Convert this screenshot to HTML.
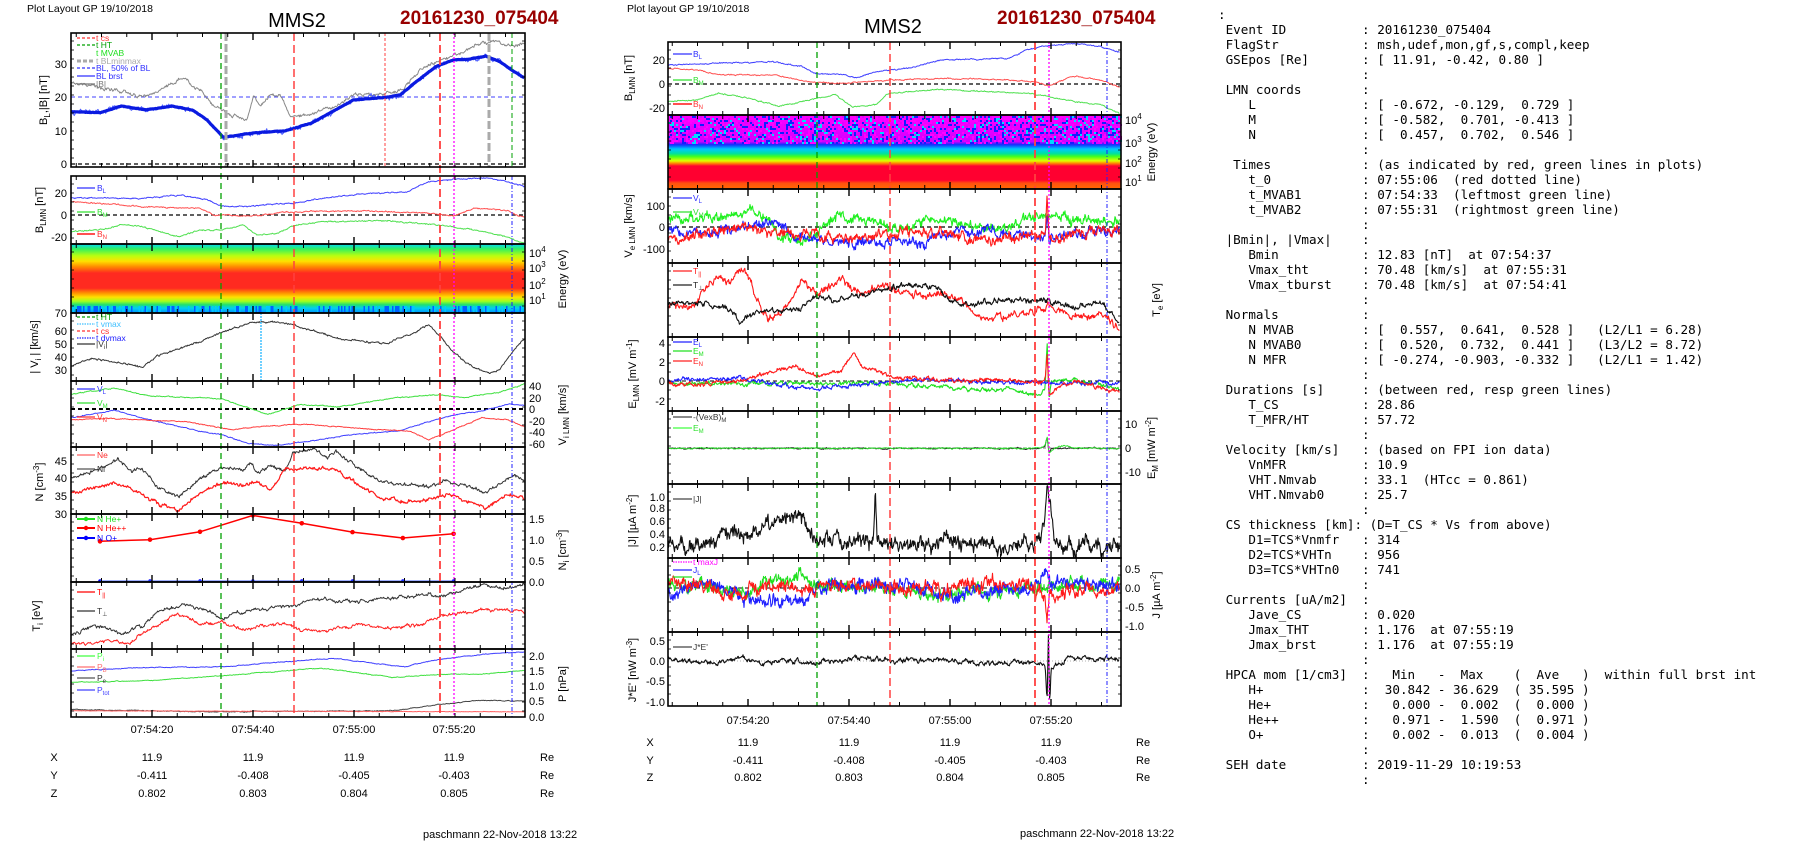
<!DOCTYPE html>
<html><head><meta charset="utf-8">
<style>
html,body{margin:0;padding:0;background:#fff;}
#wrap{position:relative;width:1804px;height:841px;overflow:hidden;background:#fff;}
svg{position:absolute;left:0;top:0;font-family:"Liberation Sans",sans-serif;}
pre{position:absolute;left:1218px;top:7px;margin:0;font-family:"DejaVu Sans Mono","Liberation Mono",monospace;font-size:12.6px;line-height:15px;color:#000;}
</style></head><body><div id="wrap">
<svg id="s" width="1804" height="841" viewBox="0 0 1804 841">
<defs>
<linearGradient id="specL" x1="0" y1="0" x2="0" y2="1">
<stop offset="0" stop-color="#00d8ff"/><stop offset="0.07" stop-color="#30f060"/><stop offset="0.17" stop-color="#b8ff10"/><stop offset="0.25" stop-color="#ffe000"/><stop offset="0.33" stop-color="#ff8a00"/><stop offset="0.42" stop-color="#ff2a20"/><stop offset="0.64" stop-color="#ff2a20"/><stop offset="0.71" stop-color="#ff9000"/><stop offset="0.77" stop-color="#ffe000"/><stop offset="0.83" stop-color="#a0ff20"/><stop offset="0.88" stop-color="#20e070"/><stop offset="0.93" stop-color="#00d0f0"/><stop offset="1" stop-color="#0090ff"/>
</linearGradient>
<linearGradient id="specM" x1="0" y1="0" x2="0" y2="1">
<stop offset="0" stop-color="#ff00ff"/><stop offset="0.36" stop-color="#d000ff"/><stop offset="0.40" stop-color="#1030ff"/><stop offset="0.46" stop-color="#00c8ff"/><stop offset="0.52" stop-color="#00e0a0"/><stop offset="0.56" stop-color="#40ff20"/><stop offset="0.62" stop-color="#e0ff00"/><stop offset="0.65" stop-color="#ff9000"/><stop offset="0.69" stop-color="#ff0030"/><stop offset="0.88" stop-color="#ff0030"/><stop offset="0.92" stop-color="#ff5010"/><stop offset="1" stop-color="#ff6a00"/>
</linearGradient>
</defs>
<rect x="71" y="244" width="454" height="69" fill="url(#specL)"/>
<rect x="668" y="115" width="453" height="74" fill="url(#specM)"/>
<g id="data"></g>
<g id="frames"></g>

<!-- headers -->
<text x="27" y="12" font-size="10.5">Plot Layout GP 19/10/2018</text>
<text x="297" y="27" font-size="20" text-anchor="middle">MMS2</text>
<text x="400" y="24" font-size="19" font-weight="bold" fill="#990000">20161230_075404</text>
<text x="627" y="12" font-size="10.5">Plot layout GP 19/10/2018</text>
<text x="893" y="33" font-size="20" text-anchor="middle">MMS2</text>
<text x="997" y="24" font-size="19" font-weight="bold" fill="#990000">20161230_075404</text>

<g font-size="11">
<!-- left tick labels -->
<g text-anchor="end">
<text x="67" y="68">30</text><text x="67" y="101">20</text><text x="67" y="135">10</text><text x="67" y="168">0</text>
<text x="67" y="197">20</text><text x="67" y="219">0</text><text x="67" y="241">-20</text>
<text x="67" y="317">70</text><text x="67" y="335">60</text><text x="67" y="348">50</text><text x="67" y="361">40</text><text x="67" y="374">30</text>
<text x="67" y="465">45</text><text x="67" y="482">40</text><text x="67" y="500">35</text><text x="67" y="518">30</text>
</g>
<text x="529" y="390">40</text><text x="529" y="402">20</text><text x="529" y="413">0</text><text x="529" y="425">-20</text><text x="529" y="436">-40</text><text x="529" y="448">-60</text>
<text x="529" y="523">1.5</text><text x="529" y="544">1.0</text><text x="529" y="565">0.5</text><text x="529" y="586">0.0</text>
<text x="529" y="660">2.0</text><text x="529" y="675">1.5</text><text x="529" y="690">1.0</text><text x="529" y="705">0.5</text><text x="529" y="721">0.0</text>
<text x="529" y="257">10<tspan font-size="8" dy="-5">4</tspan></text>
<text x="529" y="272">10<tspan font-size="8" dy="-5">3</tspan></text>
<text x="529" y="289">10<tspan font-size="8" dy="-5">2</tspan></text>
<text x="529" y="304">10<tspan font-size="8" dy="-5">1</tspan></text>
<!-- left axis titles -->
<text transform="translate(47,100) rotate(-90)" text-anchor="middle">B<tspan font-size="8" dy="3">L</tspan><tspan dy="-3">,|B| [nT]</tspan></text>
<text transform="translate(43,210) rotate(-90)" text-anchor="middle">B<tspan font-size="8" dy="3">LMN</tspan><tspan dy="-3"> [nT]</tspan></text>
<text transform="translate(38,347) rotate(-90)" text-anchor="middle">| V<tspan font-size="8" dy="3">i</tspan><tspan dy="-3"> | [km/s]</tspan></text>
<text transform="translate(43,482) rotate(-90)" text-anchor="middle">N [cm<tspan font-size="8" dy="-4">-3</tspan><tspan dy="4">]</tspan></text>
<text transform="translate(40,616) rotate(-90)" text-anchor="middle">T<tspan font-size="8" dy="3">i</tspan><tspan dy="-3"> [eV]</tspan></text>
<text transform="translate(566,279) rotate(-90)" text-anchor="middle">Energy (eV)</text>
<text transform="translate(566,415) rotate(-90)" text-anchor="middle">V<tspan font-size="8" dy="3">i LMN</tspan><tspan dy="-3"> [km/s]</tspan></text>
<text transform="translate(566,550) rotate(-90)" text-anchor="middle">N<tspan font-size="8" dy="3">i</tspan><tspan dy="-3"> [cm</tspan><tspan font-size="8" dy="-4">-3</tspan><tspan dy="4">]</tspan></text>
<text transform="translate(566,684) rotate(-90)" text-anchor="middle">P [nPa]</text>
<!-- left time/pos -->
<g text-anchor="middle">
<text x="152" y="733">07:54:20</text><text x="253" y="733">07:54:40</text><text x="354" y="733">07:55:00</text><text x="454" y="733">07:55:20</text>
<text x="152" y="761">11.9</text><text x="253" y="761">11.9</text><text x="354" y="761">11.9</text><text x="454" y="761">11.9</text>
<text x="152" y="779">-0.411</text><text x="253" y="779">-0.408</text><text x="354" y="779">-0.405</text><text x="454" y="779">-0.403</text>
<text x="152" y="797">0.802</text><text x="253" y="797">0.803</text><text x="354" y="797">0.804</text><text x="454" y="797">0.805</text>
<text x="54" y="761">X</text><text x="54" y="779">Y</text><text x="54" y="797">Z</text>
</g>
<text x="540" y="761">Re</text><text x="540" y="779">Re</text><text x="540" y="797">Re</text>
<text x="423" y="838">paschmann 22-Nov-2018 13:22</text>

<!-- middle tick labels -->
<g text-anchor="end">
<text x="665" y="64">20</text><text x="665" y="88">0</text><text x="665" y="112">-20</text>
<text x="665" y="210">100</text><text x="665" y="231">0</text><text x="665" y="253">-100</text>
<text x="665" y="347">4</text><text x="665" y="366">2</text><text x="665" y="385">0</text><text x="665" y="405">-2</text>
<text x="665" y="501">1.0</text><text x="665" y="512">0.8</text><text x="665" y="525">0.6</text><text x="665" y="538">0.4</text><text x="665" y="551">0.2</text>
<text x="665" y="645">0.5</text><text x="665" y="665">0.0</text><text x="665" y="685">-0.5</text><text x="665" y="706">-1.0</text>
</g>
<text x="1125" y="124">10<tspan font-size="8" dy="-5">4</tspan></text>
<text x="1125" y="147">10<tspan font-size="8" dy="-5">3</tspan></text>
<text x="1125" y="167">10<tspan font-size="8" dy="-5">2</tspan></text>
<text x="1125" y="186">10<tspan font-size="8" dy="-5">1</tspan></text>
<text x="1125" y="428">10</text><text x="1125" y="452">0</text><text x="1125" y="476">-10</text>
<text x="1125" y="573">0.5</text><text x="1125" y="592">0.0</text><text x="1125" y="611">-0.5</text><text x="1125" y="630">-1.0</text>
<text transform="translate(632,78) rotate(-90)" text-anchor="middle">B<tspan font-size="8" dy="3">LMN</tspan><tspan dy="-3"> [nT]</tspan></text>
<text transform="translate(632,226) rotate(-90)" text-anchor="middle">V<tspan font-size="8" dy="3">e LMN</tspan><tspan dy="-3"> [km/s]</tspan></text>
<text transform="translate(636,374) rotate(-90)" text-anchor="middle">E<tspan font-size="8" dy="3">LMN</tspan><tspan dy="-3">  [mV m</tspan><tspan font-size="8" dy="-4">-1</tspan><tspan dy="4">]</tspan></text>
<text transform="translate(636,521) rotate(-90)" text-anchor="middle">|J| [µA m<tspan font-size="8" dy="-4">-2</tspan><tspan dy="4">]</tspan></text>
<text transform="translate(636,670) rotate(-90)" text-anchor="middle">J*E' [nW m<tspan font-size="8" dy="-4">-3</tspan><tspan dy="4">]</tspan></text>
<text transform="translate(1155,152) rotate(-90)" text-anchor="middle">Energy (eV)</text>
<text transform="translate(1160,300) rotate(-90)" text-anchor="middle">T<tspan font-size="8" dy="3">e</tspan><tspan dy="-3"> [eV]</tspan></text>
<text transform="translate(1155,448) rotate(-90)" text-anchor="middle">E<tspan font-size="8" dy="3">M</tspan><tspan dy="-3"> [mW m</tspan><tspan font-size="8" dy="-4">-2</tspan><tspan dy="4">]</tspan></text>
<text transform="translate(1160,595) rotate(-90)" text-anchor="middle">J [µA m<tspan font-size="8" dy="-4">-2</tspan><tspan dy="4">]</tspan></text>
<g text-anchor="middle">
<text x="748" y="724">07:54:20</text><text x="849" y="724">07:54:40</text><text x="950" y="724">07:55:00</text><text x="1051" y="724">07:55:20</text>
<text x="748" y="746">11.9</text><text x="849" y="746">11.9</text><text x="950" y="746">11.9</text><text x="1051" y="746">11.9</text>
<text x="748" y="764">-0.411</text><text x="849" y="764">-0.408</text><text x="950" y="764">-0.405</text><text x="1051" y="764">-0.403</text>
<text x="748" y="781">0.802</text><text x="849" y="781">0.803</text><text x="950" y="781">0.804</text><text x="1051" y="781">0.805</text>
<text x="650" y="746">X</text><text x="650" y="764">Y</text><text x="650" y="781">Z</text>
</g>
<text x="1136" y="746">Re</text><text x="1136" y="764">Re</text><text x="1136" y="781">Re</text>
<text x="1020" y="837">paschmann 22-Nov-2018 13:22</text>
</g>

<!-- legends -->
<g font-size="8.5">
<g stroke-width="1.2">
<line x1="77" y1="38" x2="95" y2="38" stroke="#ff3030" stroke-dasharray="3,2"/>
<line x1="77" y1="45" x2="95" y2="45" stroke="#00a000" stroke-dasharray="3,2"/>
<line x1="77" y1="61" x2="95" y2="61" stroke="#aaa" stroke-width="3" stroke-dasharray="4,2"/>
<line x1="77" y1="68" x2="95" y2="68" stroke="#3030ff" stroke-dasharray="3,2"/>
<line x1="77" y1="76" x2="95" y2="76" stroke="#3030ff"/>
<line x1="77" y1="84" x2="95" y2="84" stroke="#777"/>
<line x1="77" y1="188" x2="95" y2="188" stroke="#3030ff"/>
<line x1="77" y1="212" x2="95" y2="212" stroke="#30e030"/>
<line x1="77" y1="234" x2="95" y2="234" stroke="#ff5050" stroke-width="2"/>
<line x1="77" y1="317" x2="95" y2="317" stroke="#00a000" stroke-dasharray="3,2"/>
<line x1="77" y1="324" x2="95" y2="324" stroke="#40c0ff" stroke-dasharray="1.5,1"/>
<line x1="77" y1="331" x2="95" y2="331" stroke="#ff3030" stroke-dasharray="3,2"/>
<line x1="77" y1="338" x2="95" y2="338" stroke="#2020ff" stroke-dasharray="1.5,1"/>
<line x1="77" y1="344" x2="95" y2="344" stroke="#333"/>
<line x1="77" y1="389" x2="95" y2="389" stroke="#3030ff"/>
<line x1="77" y1="403" x2="95" y2="403" stroke="#30e030"/>
<line x1="77" y1="417" x2="95" y2="417" stroke="#ff3030"/>
<line x1="77" y1="455" x2="95" y2="455" stroke="#ff6060"/>
<line x1="77" y1="469" x2="95" y2="469" stroke="#555"/>
<line x1="77" y1="519" x2="95" y2="519" stroke="#20e020" stroke-width="2"/>
<line x1="77" y1="528" x2="95" y2="528" stroke="#ff0000" stroke-width="2"/>
<line x1="77" y1="538" x2="95" y2="538" stroke="#0000ff" stroke-width="2"/>
<line x1="77" y1="592" x2="95" y2="592" stroke="#ff0000"/>
<line x1="77" y1="611" x2="95" y2="611" stroke="#333"/>
<line x1="77" y1="656" x2="95" y2="656" stroke="#40ff40"/>
<line x1="77" y1="667" x2="95" y2="667" stroke="#ff7070"/>
<line x1="77" y1="678" x2="95" y2="678" stroke="#555"/>
<line x1="77" y1="690" x2="95" y2="690" stroke="#4040ff"/>
<line x1="673" y1="54" x2="692" y2="54" stroke="#3030ff"/>
<line x1="673" y1="80" x2="692" y2="80" stroke="#30e030"/>
<line x1="673" y1="104" x2="692" y2="104" stroke="#ff5050" stroke-width="2"/>
<line x1="673" y1="198" x2="692" y2="198" stroke="#3030ff"/>
<line x1="673" y1="212" x2="692" y2="212" stroke="#30e030"/>
<line x1="673" y1="271" x2="692" y2="271" stroke="#ff2020"/>
<line x1="673" y1="285" x2="692" y2="285" stroke="#222"/>
<line x1="673" y1="342" x2="692" y2="342" stroke="#2020ff"/>
<line x1="673" y1="351" x2="692" y2="351" stroke="#20e020"/>
<line x1="673" y1="361" x2="692" y2="361" stroke="#ff2020"/>
<line x1="673" y1="417" x2="692" y2="417" stroke="#444"/>
<line x1="673" y1="428" x2="692" y2="428" stroke="#40ff40"/>
<line x1="673" y1="499" x2="692" y2="499" stroke="#444"/>
<line x1="673" y1="562" x2="692" y2="562" stroke="#ff00ff" stroke-dasharray="1.5,1"/>
<line x1="673" y1="570" x2="692" y2="570" stroke="#2020ff"/>
<line x1="673" y1="577" x2="692" y2="577" stroke="#20e020"/>
<line x1="673" y1="647" x2="692" y2="647" stroke="#444"/>
</g>
<circle cx="86" cy="519" r="2.2" fill="#20e020"/><circle cx="86" cy="528" r="2.2" fill="#ff0000"/><circle cx="86" cy="538" r="2.2" fill="#0000ff"/>
<text x="96" y="41" fill="#ff3030">t  cs</text>
<text x="96" y="48" fill="#00a000">t  HT</text>
<text x="96" y="56" fill="#20e020">t  MVAB</text>
<text x="96" y="64" fill="#aaa">t  BLminmax</text>
<text x="96" y="71" fill="#3030ff">BL, 50% of BL</text>
<text x="96" y="79" fill="#3030ff">BL  brst</text>
<text x="96" y="87" fill="#777">|B|</text>
<text x="97" y="191" fill="#3030ff">B<tspan font-size="6" dy="2">L</tspan></text>
<text x="97" y="215" fill="#30e030">B<tspan font-size="6" dy="2">M</tspan></text>
<text x="97" y="237" fill="#ff3030">B<tspan font-size="6" dy="2">N</tspan></text>
<text x="96" y="320" fill="#00a000">t  HT</text>
<text x="96" y="327" fill="#40c0ff">t  vmax</text>
<text x="96" y="334" fill="#ff3030">t  cs</text>
<text x="96" y="341" fill="#2020ff">t  dvmax</text>
<text x="96" y="347" fill="#333">|V<tspan font-size="6" dy="2">i</tspan><tspan dy="-2">|</tspan></text>
<text x="97" y="392" fill="#3030ff">V<tspan font-size="6" dy="2">L</tspan></text>
<text x="97" y="406" fill="#30e030">V<tspan font-size="6" dy="2">M</tspan></text>
<text x="97" y="420" fill="#ff3030">V<tspan font-size="6" dy="2">N</tspan></text>
<text x="97" y="458" fill="#ff3030">Ne</text>
<text x="97" y="472" fill="#333">Ni</text>
<text x="97" y="522" fill="#20e020">N  He+</text>
<text x="97" y="531" fill="#ff0000">N  He++</text>
<text x="97" y="541" fill="#0000ff">N  O+</text>
<text x="97" y="595" fill="#ff0000">T<tspan font-size="6" dy="2">||</tspan></text>
<text x="97" y="614" fill="#333">T<tspan font-size="6" dy="2">⊥</tspan></text>
<text x="97" y="659" fill="#40ff40">P<tspan font-size="6" dy="2">i</tspan></text>
<text x="97" y="670" fill="#ff7070">P<tspan font-size="6" dy="2">B</tspan></text>
<text x="97" y="681" fill="#333">P<tspan font-size="6" dy="2">e</tspan></text>
<text x="97" y="693" fill="#4040ff">P<tspan font-size="6" dy="2">tot</tspan></text>
<text x="693" y="57" fill="#3030ff">B<tspan font-size="6" dy="2">L</tspan></text>
<text x="693" y="83" fill="#30e030">B<tspan font-size="6" dy="2">M</tspan></text>
<text x="693" y="107" fill="#ff3030">B<tspan font-size="6" dy="2">N</tspan></text>
<text x="693" y="201" fill="#3030ff">V<tspan font-size="6" dy="2">L</tspan></text>
<text x="693" y="215" fill="#30e030">V<tspan font-size="6" dy="2">M</tspan></text>
<text x="693" y="274" fill="#ff2020">T<tspan font-size="6" dy="2">||</tspan></text>
<text x="693" y="288" fill="#222">T<tspan font-size="6" dy="2">⊥</tspan></text>
<text x="693" y="345" fill="#2020ff">E<tspan font-size="6" dy="2">L</tspan></text>
<text x="693" y="354" fill="#20e020">E<tspan font-size="6" dy="2">M</tspan></text>
<text x="693" y="364" fill="#ff2020">E<tspan font-size="6" dy="2">N</tspan></text>
<text x="693" y="420" fill="#333">-(VexB)<tspan font-size="6" dy="2">M</tspan></text>
<text x="693" y="431" fill="#30e030">E<tspan font-size="6" dy="2">M</tspan></text>
<text x="693" y="502" fill="#333">|J|</text>
<text x="693" y="565" fill="#ff00ff">t  maxJ</text>
<text x="693" y="573" fill="#2020ff">J<tspan font-size="6" dy="2">L</tspan></text>
<text x="693" y="650" fill="#333">J*E'</text>
</g>
</svg>
<pre>:
 Event ID          : 20161230_075404
 FlagStr           : msh,udef,mon,gf,s,compl,keep
 GSEpos [Re]       : [ 11.91, -0.42, 0.80 ]
                   :
 LMN coords        :
    L              : [ -0.672, -0.129,  0.729 ]
    M              : [ -0.582,  0.701, -0.413 ]
    N              : [  0.457,  0.702,  0.546 ]
                   :
  Times            : (as indicated by red, green lines in plots)
    t_0            : 07:55:06  (red dotted line)
    t_MVAB1        : 07:54:33  (leftmost green line)
    t_MVAB2        : 07:55:31  (rightmost green line)
                   :
 |Bmin|, |Vmax|    :
    Bmin           : 12.83 [nT]  at 07:54:37
    Vmax_tht       : 70.48 [km/s]  at 07:55:31
    Vmax_tburst    : 70.48 [km/s]  at 07:54:41
                   :
 Normals           :
    N MVAB         : [  0.557,  0.641,  0.528 ]   (L2/L1 = 6.28)
    N MVAB0        : [  0.520,  0.732,  0.441 ]   (L3/L2 = 8.72)
    N MFR          : [ -0.274, -0.903, -0.332 ]   (L2/L1 = 1.42)
                   :
 Durations [s]     : (between red, resp green lines)
    T_CS           : 28.86
    T_MFR/HT       : 57.72
                   :
 Velocity [km/s]   : (based on FPI ion data)
    VnMFR          : 10.9
    VHT.Nmvab      : 33.1  (HTcc = 0.861)
    VHT.Nmvab0     : 25.7
                   :
 CS thickness [km]: (D=T_CS * Vs from above)
    D1=TCS*Vnmfr   : 314
    D2=TCS*VHTn    : 956
    D3=TCS*VHTn0   : 741
                   :
 Currents [uA/m2]  :
    Jave_CS        : 0.020
    Jmax_THT       : 1.176  at 07:55:19
    Jmax_brst      : 1.176  at 07:55:19
                   :
 HPCA mom [1/cm3]  :   Min   -  Max    (  Ave   )  within full brst int
    H+             :  30.842 - 36.629  ( 35.595 )
    He+            :   0.000 -  0.002  (  0.000 )
    He++           :   0.971 -  1.590  (  0.971 )
    O+             :   0.002 -  0.013  (  0.004 )
                   :
 SEH date          : 2019-11-29 10:19:53
                   :</pre>
</div>
<script>
(function(){
var NS="http://www.w3.org/2000/svg";
var D=document.getElementById("data"), F=document.getElementById("frames");
function el(p,tag,a){var e=document.createElementNS(NS,tag);for(var k in a)e.setAttribute(k,a[k]);p.appendChild(e);return e;}
var s=12345;function rnd(){s|=0;s=s+0x6D2B79F5|0;var t=Math.imul(s^s>>>15,1|s);t=t+Math.imul(t^t>>>7,61|t)^t;return((t^t>>>14)>>>0)/4294967296;}
// pts in zoom coords; kx,ky scale; ox,oy offsets
function ser(pts,col,w,nz,ox,oy,kx,ky,yl,yh,step){
 step=step||0.7;
 var P=pts.map(function(p){return [ox+p[0]/kx,oy+p[1]/ky];});
 var out=[],i=0,walk=0;
 for(var x=P[0][0];x<=P[P.length-1][0];x+=step){
  while(i<P.length-2&&x>P[i+1][0])i++;
  var a=P[i],b=P[i+1],f=(x-a[0])/(b[0]-a[0]||1);var y=a[1]+(b[1]-a[1])*f;
  walk=walk*0.75+(rnd()-0.5)*nz;y+=walk+(rnd()-0.5)*nz*0.7;
  y=Math.max(yl,Math.min(yh,y));out.push(x.toFixed(1)+","+y.toFixed(1));
 }
 el(D,"polyline",{points:out.join(" "),fill:"none",stroke:col,"stroke-width":w,"stroke-linejoin":"round"});
}
function L1(p,c,w,n,a,b){ser(p,c,w,n,0,0,2.8,3,a,b);}
function L2(p,c,w,n,a,b){ser(p,c,w,n,0,320,2.8,3.05,a,b);}
function M3(p,c,w,n,a,b,st){ser(p,c,w,n,610,0,3.015,3,a,b,st);}
function M4(p,c,w,n,a,b,st){ser(p,c,w,n,610,400,3.015,3,a,b,st);}
function hl(x1,x2,y,c,w,da){el(D,"line",{x1:x1,x2:x2,y1:y,y2:y,stroke:c,"stroke-width":w,"stroke-dasharray":da||""});}
// ---------- LEFT ----------
var LX0=71,LX1=525;
hl(LX0,LX1,97,"#4040ff",1,"4,3");hl(LX0,LX1,164,"#000",1.2,"4,3");
L1([[200,245],[260,258],[330,270],[400,292],[450,270],[510,232],[560,270],[600,320],[640,340],[690,360],[710,290],[730,315],[760,280],[790,290],[810,350],[860,345],[900,330],[940,320],[990,285],[1080,280],[1130,265],[1180,210],[1230,180],[1270,165],[1300,155],[1350,125],[1400,130],[1440,140],[1470,130]],"#888",1,2.2,34,166);
var BL=[[200,335],[280,338],[340,318],[410,330],[480,318],[540,330],[580,360],[625,412],[700,400],[800,392],[870,370],[990,300],[1080,292],[1120,285],[1160,250],[1220,200],[1270,180],[1310,178],[1360,168],[1400,185],[1440,215],[1470,235]];
L1(BL,"#5060ff",1,3,34,166);
L1(BL,"#0a1ae0",3.2,0.3,34,166);
hl(LX0,LX1,215,"#000",1.2,"4,3");
L1([[200,593],[400,595],[500,585],[580,600],[620,618],[700,620],[760,612],[820,610],[900,595],[1000,583],[1140,575],[1200,545],[1240,540],[1300,536],[1360,534],[1420,545],[1470,560]],"#4040ff",1,0.8,177,243);
L1([[200,605],[300,612],[400,620],[560,625],[600,645],[700,648],[820,635],[1000,632],[1200,640],[1270,648],[1330,625],[1420,632],[1470,655]],"#ff5050",1,0.8,177,243);
L1([[200,695],[300,685],[340,675],[400,680],[500,710],[560,690],[620,690],[680,675],[720,705],[780,700],[820,678],[900,665],[1080,662],[1230,675],[1300,685],[1400,705],[1470,730]],"#50e050",1,0.8,177,243);
// spectrogram texture left
for(var x=LX0;x<LX1;x+=1.5){if(rnd()<0.5)el(D,"rect",{x:x,y:306,width:1.5,height:7,fill:rnd()<0.5?"#0060ff":"#00c8ff"});}
L2([[200,140],[260,118],[330,130],[400,145],[440,110],[550,70],[620,40],[700,8],[760,5],[820,15],[900,40],[960,60],[1080,72],[1150,45],[1200,15],[1240,60],[1270,100],[1320,140],[1370,165],[1400,150],[1440,90],[1470,55]],"#333",1,1.2,314,380);
hl(LX0,LX1,409,"#000",2,"4,3");
L2([[200,225],[320,208],[420,232],[620,240],[750,288],[840,258],[950,265],[1100,238],[1230,228],[1300,237],[1400,220],[1470,195]],"#40e040",1,0.6,382,446);
L2([[200,298],[320,275],[420,305],[560,340],[620,350],[700,378],[780,382],[850,372],[1000,348],[1120,338],[1200,310],[1270,290],[1360,275],[1430,255],[1470,262]],"#4040ff",1,0.6,382,446);
L2([[200,305],[300,300],[400,305],[520,310],[650,335],[720,325],[850,318],[1000,330],[1150,340],[1200,365],[1260,340],[1350,298],[1420,305],[1470,325]],"#ff4040",1,0.6,382,446);
L2([[200,480],[260,462],[330,425],[370,462],[400,452],[440,510],[500,540],[560,480],[620,450],[680,458],[700,436],[720,468],[760,445],[800,460],[820,400],[880,398],[920,415],[940,400],[1000,450],[1060,490],[1140,505],[1200,510],[1240,490],[1300,505],[1360,528],[1400,500],[1440,475],[1470,490]],"#333",1,2.2,448,513);
L2([[200,530],[320,495],[380,520],[440,560],[500,585],[560,525],[620,498],[680,505],[720,490],[760,515],[800,455],[880,450],[940,458],[1000,500],[1060,540],[1140,555],[1200,550],[1240,530],[1300,548],[1360,572],[1420,530],[1470,548]],"#ff1a1a",1.2,2.2,448,513);
var hp=[[280,675],[420,670],[560,646],[708,596],[845,620],[987,647],[1128,665],[1270,652]];
var pp=hp.map(function(p){return (p[0]/2.8).toFixed(1)+","+(320+p[1]/3.05).toFixed(1);}).join(" ");
el(D,"polyline",{points:pp,fill:"none",stroke:"#ff0000","stroke-width":1.5});
hp.forEach(function(p){el(D,"circle",{cx:p[0]/2.8,cy:320+p[1]/3.05,r:2.3,fill:"#ff0000"});el(D,"circle",{cx:p[0]/2.8,cy:581,r:1.8,fill:"#0000ff"});});
hl(100,454,581,"#4060ff",1);
L2([[200,960],[260,935],[300,940],[340,955],[400,935],[440,890],[510,868],[560,882],[620,905],[680,890],[740,880],[800,870],[820,878],[850,858],[900,848],[960,860],[1020,860],[1060,850],[1130,845],[1200,835],[1240,850],[1280,830],[1350,808],[1420,820],[1470,805]],"#333",1,2.2,583,648);
L2([[200,990],[300,980],[360,985],[420,945],[500,895],[560,925],[620,920],[680,945],[740,935],[800,925],[840,945],[900,950],[1000,930],[1100,940],[1180,930],[1230,905],[1300,895],[1340,880],[1420,888],[1470,890]],"#ff2020",1,2.2,583,648);
L2([[200,1070],[400,1060],[620,1058],[820,1040],[940,1032],[1130,1058],[1230,1035],[1350,1020],[1470,1012]],"#4040ff",1,0.5,650,716);
L2([[200,1105],[420,1100],[620,1085],[800,1070],[900,1062],[1100,1090],[1250,1080],[1350,1080],[1470,1068]],"#40e040",1,0.5,650,716);
L2([[200,1188],[600,1195],[1100,1192],[1250,1170],[1350,1160],[1470,1163]],"#444",1,0.5,650,716);
L2([[200,1192],[1470,1195]],"#ff6060",1,0.3,650,716);
// ---------- MIDDLE ----------
var MX0=668,MX1=1121;
hl(MX0,MX1,84,"#000",1.2,"4,3");
M3([[175,195],[300,190],[480,185],[580,200],[620,220],[700,225],[750,232],[800,215],[850,210],[900,205],[1000,180],[1200,175],[1260,148],[1300,140],[1400,130],[1480,140],[1537,158]],"#4040ff",1,0.8,43,114);
M3([[175,205],[270,210],[330,225],[500,225],[600,245],[700,250],[850,240],[1000,235],[1200,240],[1280,245],[1320,258],[1400,228],[1480,240],[1537,262]],"#ff5050",1,0.8,43,114);
M3([[175,305],[260,300],[330,280],[420,295],[510,320],[600,300],[680,285],[730,320],[800,315],[840,280],[1000,268],[1280,282],[1400,305],[1480,315],[1537,340]],"#50e050",1,0.8,43,114);
// magenta speckle
var cols=["#ff00ff","#ff00ff","#e000ff","#1020ff","#1020ff","#00d8ff"];
for(var x=MX0;x<MX1;x+=2){for(var y=116;y<144;y+=2){if(rnd()<0.55)el(D,"rect",{x:x,y:y,width:2,height:2,fill:cols[Math.floor(rnd()*cols.length)]});}}
hl(MX0,MX1,227,"#000",1.2,"4,3");
M3([[175,650],[300,660],[380,640],[430,625],[480,660],[520,720],[600,720],[650,670],[700,650],[800,670],[850,685],[900,680],[980,655],[1100,680],[1200,680],[1260,660],[1330,640],[1400,665],[1537,665]],"#20f020",1.1,6,190,262,0.5);
M3([[175,690],[300,700],[400,680],[500,660],[560,705],[620,720],[700,730],[800,720],[900,725],[950,735],[1000,700],[1100,690],[1200,700],[1280,710],[1312,700],[1318,640],[1324,740],[1330,720],[1400,700],[1537,690]],"#2020ff",1.1,6,190,262,0.5);
M3([[175,710],[300,700],[400,680],[500,700],[600,705],[700,720],[800,710],[900,690],[1000,700],[1100,715],[1200,715],[1300,700],[1312,700],[1318,580],[1324,720],[1400,700],[1537,690]],"#ff1a1a",1.1,6,190,262,0.5);
M3([[175,910],[240,930],[280,880],[320,830],[360,850],[390,805],[410,820],[440,890],[480,960],[520,940],[560,880],[580,840],[620,885],[700,840],[720,860],[760,880],[820,860],[900,880],[1000,880],[1060,900],[1100,950],[1200,950],[1260,940],[1320,920],[1400,950],[1480,940],[1537,990]],"#ff1a1a",1.1,4.5,264,336,0.6);
M3([[175,910],[300,910],[360,930],[390,970],[420,945],[500,930],[580,930],[620,890],[700,900],[840,860],[900,855],[980,860],[1010,890],[1060,910],[1100,915],[1200,900],[1300,900],[1400,920],[1480,900],[1537,970]],"#111",1.1,3.5,264,336,0.6);
hl(MX0,MX1,381,"#000",1,"4,3");
M3([[175,1150],[600,1150],[800,1150],[1000,1160],[1100,1170],[1200,1165],[1300,1185],[1312,1160],[1318,1020],[1324,1200],[1330,1150],[1400,1140],[1537,1165]],"#20e020",1.1,2.5,338,410,0.6);
M3([[175,1140],[400,1135],[580,1165],[700,1160],[800,1150],[900,1140],[1100,1145],[1300,1150],[1537,1150]],"#2020ff",1.1,2.5,338,410,0.6);
M3([[175,1150],[300,1155],[400,1140],[500,1110],[560,1100],[620,1125],[700,1110],[735,1060],[760,1100],[800,1110],[850,1130],[1000,1140],[1200,1140],[1300,1150],[1312,1140],[1318,1060],[1324,1180],[1400,1140],[1537,1180]],"#ff1a1a",1.1,2.5,338,410,0.6);
hl(MX0,MX1,448,"#777",1,"3,2");
M4([[175,145],[1300,145],[1312,140],[1318,110],[1324,160],[1330,145],[1537,145]],"#222",1,0.8,412,483,0.6);
M4([[175,145],[1300,145],[1312,135],[1318,110],[1324,160],[1340,145],[1370,135],[1400,145],[1537,145]],"#30e030",1,0.8,412,483,0.6);
M4([[175,430],[300,430],[350,400],[450,400],[500,350],[580,360],[620,420],[700,430],[795,420],[800,295],[806,420],[900,440],[1000,420],[1200,440],[1280,420],[1310,380],[1318,255],[1326,300],[1340,420],[1400,440],[1537,440]],"#111",1.1,9,485,557,0.5);
hl(MX0,MX1,588,"#000",1,"4,3");
M4([[175,560],[300,560],[400,575],[500,540],[580,520],[650,560],[800,560],[900,565],[1000,590],[1100,575],[1300,565],[1400,560],[1537,555]],"#20e020",1.1,8,559,631,0.5);
M4([[175,580],[300,550],[400,590],[500,610],[580,600],[650,550],[800,560],[900,555],[1000,575],[1100,585],[1250,560],[1318,520],[1330,560],[1400,540],[1537,560]],"#2020ff",1.1,8,559,631,0.5);
M4([[175,550],[300,560],[400,580],[500,565],[600,565],[700,560],[900,560],[1000,575],[1100,545],[1250,560],[1290,580],[1312,600],[1318,680],[1324,580],[1400,570],[1537,575]],"#ff1a1a",1.1,8,559,631,0.5);
hl(MX0,MX1,661,"#999",0.8,"1,2");
M4([[175,775],[260,790],[400,775],[450,790],[500,780],[600,785],[700,785],[720,770],[800,780],[1000,780],[1100,788],[1250,785],[1300,790],[1312,800],[1318,900],[1322,700],[1326,918],[1330,800],[1400,775],[1537,780]],"#111",1.1,3,633,705,0.6);
// ---------- vertical markers ----------
var LP=[[33,167],[176,717]], MP=[[42,706]];
function vl(x,y1,y2,c,w,da){el(D,"line",{x1:x,x2:x,y1:y1,y2:y2,stroke:c,"stroke-width":w,"stroke-dasharray":da||""});}
vl(221,33,717,"#00a000",1.3,"6,4");
vl(226,33,167,"#aaa",3,"8,3");vl(489,33,167,"#aaa",3,"8,3");
vl(294,33,717,"#ff4040",1.5,"8,4");
vl(385,33,167,"#ff4040",1,"3,2");
vl(440,33,717,"#ff4040",1.8,"8,4");
vl(454,33,717,"#ff00ff",1.3,"2,2");
vl(512,33,167,"#00a000",1,"5,3");vl(512,176,717,"#2020ff",1,"4,2,1,2");
vl(261,313,381,"#40c0ff",1.5,"2,1");
vl(817,42,706,"#00a000",1.3,"6,4");
vl(890,42,706,"#ff4040",1.5,"8,4");
vl(1035,42,706,"#ff4040",1.8,"8,4");
vl(1049,42,706,"#ff00ff",1.3,"2,2");
vl(1107,42,706,"#2020ff",1,"4,2,1,2");
// ---------- frames & ticks ----------
function panels(x0,x1,bounds,maj){
 bounds.forEach(function(b){
  el(F,"rect",{x:x0,y:b[0],width:x1-x0,height:b[1]-b[0],fill:"none",stroke:"#000","stroke-width":1.6});
  for(var t=maj[0]-4*25.25;t<x1;t+=25.25){ if(t<=x0+1)continue;
   var isM=false;maj.forEach(function(m){if(Math.abs(m-t)<1)isM=true;});
   var l=isM?7:4;
   el(F,"line",{x1:t,x2:t,y1:b[0],y2:b[0]+l,stroke:"#000","stroke-width":isM?1.4:1});
   el(F,"line",{x1:t,x2:t,y1:b[1]-l,y2:b[1],stroke:"#000","stroke-width":isM?1.4:1});
  }
  for(var y=b[0]+8;y<b[1]-3;y+=9){el(F,"line",{x1:x0,x2:x0+3,y1:y,y2:y,stroke:"#000","stroke-width":0.8});el(F,"line",{x1:x1-3,x2:x1,y1:y,y2:y,stroke:"#000","stroke-width":0.8});}
 });
}
panels(71,525,[[33,167],[176,244],[244,313],[313,381],[381,447],[447,514],[514,582],[582,649],[649,717]],[152,253,354,454]);
panels(668,1121,[[42,115],[115,189],[189,263],[263,337],[337,411],[411,484],[484,558],[558,632],[632,706]],[748,849,950,1051]);
})();
</script>
</body></html>
